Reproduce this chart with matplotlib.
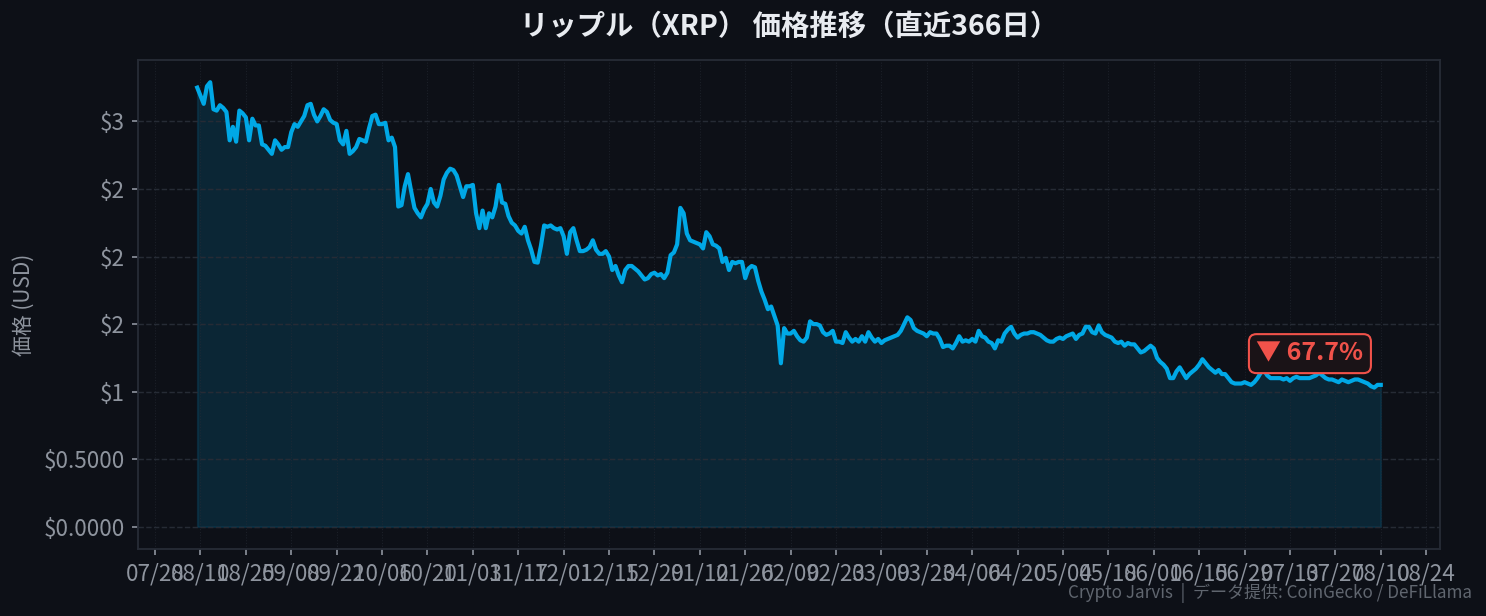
import numpy as np
import pandas as pd
import matplotlib
matplotlib.use("Agg")
import matplotlib.pyplot as plt
import matplotlib.dates as mdates
from matplotlib.ticker import FuncFormatter

plt.rcParams['font.family'] = ['Noto Sans CJK JP', 'DejaVu Sans']

# daily XRP close (USD)
start_date = "2025-08-10"
prices = [
    3.25, 3.19, 3.13, 3.26, 3.29, 3.09, 3.08, 3.12, 3.10, 3.07,
    2.86, 2.96, 2.85, 3.08, 3.06, 3.03, 2.86, 3.02, 2.97, 2.97,
    2.83, 2.82, 2.79, 2.76, 2.86, 2.83, 2.79, 2.81, 2.81, 2.92,
    2.98, 2.96, 3.00, 3.04, 3.12, 3.13, 3.05, 3.00, 3.04, 3.09,
    3.07, 3.01, 2.99, 2.98, 2.86, 2.83, 2.93, 2.76, 2.78, 2.81,
    2.87, 2.86, 2.85, 2.95, 3.04, 3.05, 2.98, 2.98, 2.99, 2.86,
    2.88, 2.81, 2.37, 2.38, 2.52, 2.61, 2.48, 2.36, 2.32, 2.29,
    2.35, 2.39, 2.50, 2.40, 2.37, 2.45, 2.57, 2.62, 2.65, 2.64,
    2.60, 2.52, 2.44, 2.52, 2.52, 2.53, 2.32, 2.21, 2.34, 2.21,
    2.32, 2.29, 2.37, 2.53, 2.40, 2.39, 2.30, 2.25, 2.23, 2.19,
    2.17, 2.22, 2.12, 2.05, 1.96, 1.955, 2.08, 2.23, 2.22, 2.23,
    2.21, 2.20, 2.21, 2.15, 2.02, 2.18, 2.21, 2.12, 2.04, 2.04,
    2.05, 2.07, 2.12, 2.05, 2.02, 2.02, 2.04, 2.00, 1.90, 1.93,
    1.86, 1.81, 1.90, 1.93, 1.93, 1.91, 1.89, 1.86, 1.83, 1.84,
    1.87, 1.88, 1.86, 1.87, 1.84, 1.88, 2.01, 2.03, 2.09, 2.36,
    2.32, 2.17, 2.12, 2.11, 2.10, 2.09, 2.06, 2.18, 2.15, 2.09,
    2.08, 2.06, 1.96, 1.99, 1.90, 1.96, 1.95, 1.96, 1.96, 1.84,
    1.91, 1.93, 1.92, 1.82, 1.74, 1.68, 1.61, 1.63, 1.56, 1.49,
    1.21, 1.47, 1.43, 1.43, 1.45, 1.41, 1.38, 1.37, 1.40, 1.52,
    1.50, 1.50, 1.49, 1.44, 1.42, 1.43, 1.45, 1.37, 1.37, 1.36,
    1.44, 1.40, 1.37, 1.39, 1.37, 1.41, 1.37, 1.44, 1.40, 1.37,
    1.39, 1.36, 1.38, 1.39, 1.40, 1.41, 1.42, 1.45, 1.50, 1.55,
    1.53, 1.47, 1.45, 1.44, 1.43, 1.41, 1.44, 1.43, 1.43, 1.39,
    1.33, 1.34, 1.34, 1.32, 1.36, 1.41, 1.37, 1.38, 1.37, 1.39,
    1.37, 1.45, 1.41, 1.40, 1.37, 1.36, 1.32, 1.38, 1.37, 1.43,
    1.46, 1.48, 1.43, 1.40, 1.42, 1.43, 1.43, 1.44, 1.44, 1.43,
    1.42, 1.40, 1.38, 1.37, 1.37, 1.39, 1.40, 1.39, 1.41, 1.42,
    1.43, 1.39, 1.42, 1.43, 1.48, 1.48, 1.44, 1.43, 1.49, 1.44,
    1.42, 1.41, 1.40, 1.37, 1.36, 1.37, 1.34, 1.36, 1.35, 1.35,
    1.32, 1.29, 1.30, 1.32, 1.34, 1.32, 1.25, 1.22, 1.20, 1.17,
    1.10, 1.10, 1.15, 1.18, 1.14, 1.10, 1.13, 1.15, 1.17, 1.20,
    1.24, 1.21, 1.18, 1.16, 1.14, 1.16, 1.13, 1.13, 1.10, 1.07,
    1.06, 1.06, 1.06, 1.07, 1.06, 1.05, 1.07, 1.10, 1.14, 1.16,
    1.12, 1.10, 1.10, 1.10, 1.10, 1.09, 1.10, 1.08, 1.10, 1.11,
    1.10, 1.10, 1.10, 1.10, 1.11, 1.12, 1.14, 1.12, 1.10, 1.09,
    1.09, 1.08, 1.07, 1.09, 1.08, 1.07, 1.08, 1.09, 1.09, 1.08,
    1.07, 1.06, 1.04, 1.03, 1.05, 1.05,
]
dates = pd.date_range(start_date, periods=len(prices), freq="D")
tick_dates = pd.date_range("2025-07-28", "2026-08-24", freq="14D")

bg = "#0d1017"
line_c = "#00a8e6"
grid_c = "#262b35"
text_c = "#8e949e"
red = "#f0524a"

fig = plt.figure(figsize=(1486 / 150, 616 / 150), dpi=150, facecolor=bg)
ax = fig.add_axes([0.0929, 0.1088, 0.8761, 0.7938])
ax.set_facecolor(bg)

ax.fill_between(dates, prices, 0, color=line_c, alpha=0.15, linewidth=0.8)
ax.plot(dates, prices, color=line_c, linewidth=2.0)

ax.set_xticks(tick_dates)
ax.xaxis.set_major_formatter(mdates.DateFormatter("%m/%d"))
ax.yaxis.set_major_formatter(FuncFormatter(lambda v, p: f"${v:,.0f}" if v >= 1 else f"${v:.4f}"))

ax.grid(axis="y", color=grid_c, linestyle="--", linewidth=0.7)
ax.grid(axis="x", color=grid_c, linestyle=":", linewidth=0.5, alpha=0.6)
ax.tick_params(colors=text_c, labelsize=10.8, length=3, width=0.8)
for s in ax.spines.values():
    s.set_color(grid_c)
    s.set_linewidth(0.9)

ax.set_ylabel("価格 (USD)", color=text_c, fontsize=10)
ax.yaxis.set_label_coords(-0.0795, 0.5)

# change over the period
pct = (prices[-1] / prices[0] - 1) * 100
ax.annotate(f"▼ {abs(pct):.1f}%", xy=(dates[-1], prices[-1]), xytext=(-34, 15),
            textcoords="offset points", ha="center", va="center",
            color=red, fontsize=12, fontweight="bold",
            family=["Noto Sans CJK JP", "DejaVu Sans"],
            bbox=dict(boxstyle="round,pad=0.3", fc="#1a1317", ec=red, lw=1.0))

ax.set_title("リップル（XRP） 価格推移（直近366日）", color="#e8ebf0",
             fontsize=13.6, fontweight="bold", pad=12)
fig.text(0.9906, 0.037, "Crypto Jarvis  |  データ提供: CoinGecko / DeFiLlama",
         ha="right", va="center", color="#60666f", fontsize=8.2)

fig.savefig("out.png", dpi=150, facecolor=bg)
